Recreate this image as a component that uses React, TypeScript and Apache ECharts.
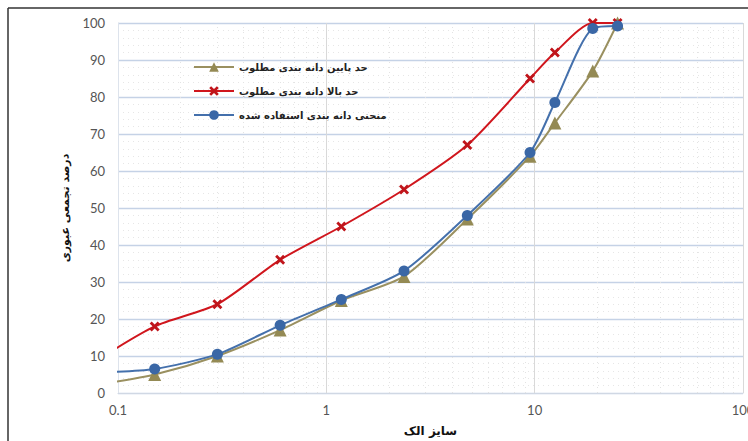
import React, { useEffect, useRef } from "react";
import * as echarts from "echarts";

const sieveSizes = [0.075, 0.15, 0.3, 0.6, 1.18, 2.36, 4.75, 9.5, 12.5, 19, 25];
const lowerLimit = [2, 5, 10, 17, 25, 31.5, 47, 64, 73, 87, 100];
const upperLimit = [8, 18, 24, 36, 45, 55, 67, 85, 92, 100, 100];
const usedCurve = [5.5, 6.5, 10.5, 18.3, 25.3, 33, 48, 65, 78.5, 98.5, 99.2];
const seriesNames = [
  "حد پایین دانه بندی مطلوب",
  "حد بالا دانه بندی مطلوب",
  "منحنی دانه بندی استفاده شده",
];
const minorX = [0.2, 0.3, 0.4, 0.5, 0.6, 0.7, 0.8, 0.9, 2, 3, 4, 5, 6, 7, 8, 9, 20, 30, 40, 50, 60, 70, 80, 90];
const xAxisName = "سایز الک";
const yAxisName = "درصد تجمعی عبوری";

const persianFont = "'DejaVu Sans', 'Noto Sans', sans-serif";
const tickFont = "Lato, 'Open Sans', sans-serif";

export default function App() {
  const ref = useRef<HTMLDivElement>(null);
  useEffect(() => {
    if (!ref.current) return;
    const chart = echarts.init(ref.current, undefined, { renderer: "svg" });
    const pairs = (vals: number[]) => sieveSizes.map((s, i) => [s, vals[i]]);
    chart.setOption({
      animation: false,
      backgroundColor: "#ffffff",
      grid: { left: 118, right: 5, top: 23, bottom: 48, outerBoundsMode: "none", containLabel: false },
      legend: {
        orient: "vertical",
        left: 188,
        top: 57,
        align: "left",
        itemGap: 14,
        itemWidth: 40,
        itemHeight: 12,
        textStyle: { fontFamily: persianFont, fontSize: 10, fontWeight: "bold", color: "#222" },
        data: seriesNames,
      },
      xAxis: {
        type: "log",
        logBase: 10,
        min: 0.1,
        max: 100,
        name: xAxisName,
        nameLocation: "middle",
        nameGap: 32,
        nameTextStyle: { fontFamily: persianFont, fontSize: 12, fontWeight: "bold", color: "#111" },
        axisLine: { show: true, lineStyle: { color: "#d0d8e4" } },
        axisTick: { show: false },
        axisLabel: {
          fontFamily: tickFont,
          fontSize: 13,
          color: "#555",
          margin: 10,
          formatter: (v: number) => String(v),
        },
        splitLine: { show: true, lineStyle: { color: "#d9d9d9", width: 1 } },
      },
      yAxis: {
        type: "value",
        min: 0,
        max: 100,
        interval: 10,
        name: yAxisName,
        nameLocation: "middle",
        nameGap: 46,
        nameTextStyle: { fontFamily: persianFont, fontSize: 11, fontWeight: "bold", color: "#111" },
        axisLine: { show: true, lineStyle: { color: "#dde3ec" } },
        axisTick: { show: false },
        axisLabel: { fontFamily: tickFont, fontSize: 13, color: "#555", margin: 13 },
        splitLine: { show: true, lineStyle: { color: "#c5d2e6", width: 1.3 } },
        minorTick: { show: false, splitNumber: 5 },
        minorSplitLine: { show: true, lineStyle: { color: "#e6e6e6", type: [1, 4], width: 1 } },
      },
      series: [
        {
          name: seriesNames[0],
          type: "line",
          data: pairs(lowerLimit),
          smooth: 0.25,
          symbol: "triangle",
          symbolSize: 13,
          lineStyle: { color: "#9a9060", width: 2 },
          itemStyle: { color: "#948a54" },
          z: 3,
          markLine: {
            silent: true,
            symbol: "none",
            label: { show: false },
            lineStyle: { color: "#e3e3e3", type: [1, 4], width: 1 },
            data: minorX.map((x) => ({ xAxis: x })),
            z: 1,
          },
        },
        {
          name: seriesNames[1],
          type: "line",
          data: pairs(upperLimit),
          smooth: 0.25,
          symbol: "path://M0,2 L2,0 L5,3 L8,0 L10,2 L7,5 L10,8 L8,10 L5,7 L2,10 L0,8 L3,5 Z",
          symbolSize: 10,
          lineStyle: { color: "#d0161d", width: 2 },
          itemStyle: { color: "#c0151b" },
          z: 4,
        },
        {
          name: seriesNames[2],
          type: "line",
          data: pairs(usedCurve),
          smooth: 0.25,
          symbol: "circle",
          symbolSize: 11,
          lineStyle: { color: "#4470ac", width: 2 },
          itemStyle: { color: "#3a67a6" },
          z: 5,
        },
      ],
      graphic: [
        { type: "line", shape: { x1: 8, y1: 8, x2: 748, y2: 8 }, style: { stroke: "#333", lineWidth: 1.5 } },
        { type: "line", shape: { x1: 8, y1: 8, x2: 8, y2: 441 }, style: { stroke: "#333", lineWidth: 1.5 } },
      ],
    });
    return () => chart.dispose();
  }, []);
  return (
    <div
      ref={ref}
      style={{ position: "fixed", left: 0, top: 0, width: 748, height: 441 }}
    />
  );
}
